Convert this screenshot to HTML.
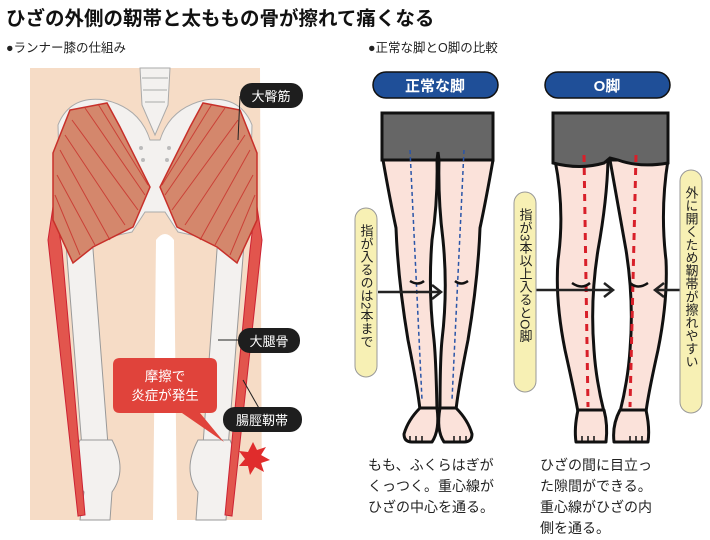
<!DOCTYPE html>
<html><head><meta charset="utf-8"><style>
body{margin:0;width:710px;height:540px;background:#fff;overflow:hidden;font-family:"Liberation Sans","Noto Sans CJK JP",sans-serif}
svg{position:absolute;left:0;top:0}
</style></head><body>
<svg width="710" height="540" viewBox="0 0 710 540" font-family="Liberation Sans, Noto Sans CJK JP, sans-serif">
<text x="6" y="25" font-size="19.5" font-weight="bold" fill="#111">ひざの外側の靭帯と太ももの骨が擦れて痛くなる</text>
<text x="6" y="52" font-size="12.5" fill="#222">●ランナー膝の仕組み</text>
<text x="368" y="52" font-size="12.5" fill="#222">●正常な脚とO脚の比較</text>

<!-- LEFT illustration -->
<path d="M30,68 L260,68 L262,520 L177,520 L174,240 Q165,228 156,240 L153,520 L30,520 Z" fill="#f6dcc6"/>
<!-- pelvis -->
<path d="M58,125 Q70,95 105,100 Q140,108 150,140 L160,140 Q170,108 205,100 Q240,95 252,125 L250,200 L205,238 L178,232 L165,212 L145,212 L132,232 L105,238 L60,200 Z" fill="#f3f1ef" stroke="#aaa" stroke-width="1"/>
<path d="M140,68 L170,68 L168,105 L155,135 L142,105 Z" fill="#f3f1ef" stroke="#aaa" stroke-width="1"/>
<g fill="none" stroke="#aaa" stroke-width="1"><path d="M142,78 L168,78 M143,90 L167,90 M145,102 L165,102"/></g>
<g fill="#bbb"><circle cx="141" cy="148" r="2"/><circle cx="169" cy="148" r="2"/><circle cx="143" cy="160" r="2"/><circle cx="167" cy="160" r="2"/></g>
<!-- femurs -->
<path d="M66,244 Q64,232 76,232 L92,236 L108,445 L82,448 Z" fill="#f3f1ef" stroke="#999" stroke-width="1"/>
<path d="M244,244 Q246,232 234,232 L218,236 L203,445 L228,448 Z" fill="#f3f1ef" stroke="#999" stroke-width="1"/>
<path d="M80,440 Q66,470 84,492 L80,520 L110,520 L112,492 Q128,470 112,440 Z" fill="#f3f1ef" stroke="#999" stroke-width="1"/>
<path d="M198,440 Q182,470 198,492 L196,520 L226,520 L228,492 Q244,470 230,440 Z" fill="#f3f1ef" stroke="#999" stroke-width="1"/>
<!-- IT bands -->
<path d="M54,200 L62,250 L85,515 L78,516 L48,240 Z" fill="#e2554d" stroke="#c23" stroke-width="1"/>
<path d="M256,200 L250,250 L225,515 L232,516 L262,240 Z" fill="#e2554d" stroke="#c23" stroke-width="1"/>
<!-- muscles -->
<g fill="#d4876c" stroke="#c8302a" stroke-width="1.5">
<path d="M53,153 L70,110 L107,103 L120,127 L150,187 L133,227 L93,247 L73,263 L53,220 Z"/>
<path d="M257,153 L240,110 L203,103 L190,127 L160,187 L177,227 L217,247 L237,263 L257,220 Z"/>
</g>
<g stroke="#c8302a" stroke-width="1" opacity=".8">
<path d="M60,150 L110,240 M65,135 L125,225 M72,120 L138,210 M85,108 L145,195 M98,104 L148,185 M57,175 L95,245 M55,195 L80,255"/>
<path d="M250,150 L200,240 M245,135 L185,225 M238,120 L172,210 M225,108 L165,195 M212,104 L162,185 M253,175 L215,245 M255,195 L230,255"/>
</g>
<!-- labels -->
<line x1="240" y1="96" x2="238" y2="140" stroke="#222"/>
<rect x="240" y="83" width="63" height="25" rx="12" fill="#1e1e1e"/>
<text x="271" y="101" font-size="13" fill="#fff" text-anchor="middle">大臀筋</text>
<line x1="218" y1="340" x2="238" y2="340" stroke="#222"/>
<rect x="238" y="328" width="62" height="25" rx="12" fill="#1e1e1e"/>
<text x="269" y="346" font-size="13" fill="#fff" text-anchor="middle">大腿骨</text>
<line x1="243" y1="380" x2="260" y2="410" stroke="#222"/>
<rect x="223" y="407" width="79" height="25" rx="12" fill="#1e1e1e"/>
<text x="262" y="425" font-size="13" fill="#fff" text-anchor="middle">腸脛靭帯</text>
<path d="M120,358 L210,358 Q217,358 217,365 L217,406 Q217,413 210,413 L200,413 L224,442 L182,413 L120,413 Q113,413 113,406 L113,365 Q113,358 120,358 Z" fill="#e0433b"/>
<text x="165" y="381" font-size="13.5" fill="#fff" text-anchor="middle">摩擦で</text>
<text x="165" y="400" font-size="13.5" fill="#fff" text-anchor="middle">炎症が発生</text>
<polygon points="253,442 257,450 266,447 261,455 270,460 261,463 264,472 255,467 250,475 248,466 239,466 245,459 239,451 248,452" fill="#e02c2c"/>

<!-- RIGHT: pills -->
<rect x="373" y="72" width="125" height="26" rx="13" fill="#1f4f98" stroke="#111" stroke-width="1.5"/>
<text x="435" y="91" font-size="15" fill="#fff" text-anchor="middle" font-weight="bold">正常な脚</text>
<rect x="545" y="72" width="125" height="26" rx="13" fill="#1f4f98" stroke="#111" stroke-width="1.5"/>
<text x="607" y="91" font-size="15" fill="#fff" text-anchor="middle" font-weight="bold">O脚</text>

<!-- normal legs -->
<g stroke="#111" stroke-width="3" fill="#fbe2da" stroke-linejoin="round">
<path d="M383,160 Q390,200 396,228 Q398,280 408,340 Q418,390 420,410 L437,410 Q436,360 434,340 Q428,290 432,240 Q438,200 437,160 Z"/>
<path d="M493,160 Q486,200 480,228 Q478,280 468,340 Q458,390 456,410 L440,410 Q440,360 442,340 Q448,290 443,240 Q438,200 439,160 Z"/>
<path d="M420,408 Q408,420 404,434 Q404,442 412,442 L432,442 Q440,430 437,408 Z"/>
<path d="M456,408 Q468,420 472,434 Q472,442 464,442 L444,442 Q436,430 440,408 Z"/>
</g>
<g stroke="#111" stroke-width="1.5"><path d="M410,436 L410,442 M416,436 L416,442 M422,436 L422,442 M466,436 L466,442 M460,436 L460,442 M454,436 L454,442"/></g>
<path d="M382,113 L493,113 L493,160 L439,160 L438,152 L437,160 L382,160 Z" fill="#666" stroke="#111" stroke-width="3"/>
<g stroke="#2a55a8" stroke-width="1.5" stroke-dasharray="4,3"><line x1="410" y1="150" x2="422" y2="400"/><line x1="464" y1="150" x2="452" y2="400"/></g>
<g fill="none" stroke="#111" stroke-width="2.5"><path d="M410,281 Q418,286 424,281 M455,281 Q461,286 468,281"/></g>
<line x1="378" y1="292" x2="440" y2="292" stroke="#222" stroke-width="2.5"/>
<path d="M432,285 L441,292 L432,299" fill="none" stroke="#222" stroke-width="2.5"/>
<rect x="355" y="208" width="22" height="169" rx="11" fill="#f7f0b4" stroke="#999"/>
<text x="366" y="224" font-size="13" fill="#222" style="writing-mode:vertical-rl">指が入るのは2本まで</text>

<!-- O legs -->
<g stroke="#111" stroke-width="3" fill="#fbe2da" stroke-linejoin="round">
<path d="M555,160 Q565,210 558,260 Q555,300 565,350 Q575,395 578,412 L604,412 Q596,380 594,350 Q590,300 598,250 Q607,200 608,160 Z"/>
<path d="M668,160 Q660,210 666,260 Q668,300 658,350 Q648,395 646,412 L620,412 Q628,380 630,350 Q634,300 626,250 Q617,200 610,160 Z"/>
<path d="M578,410 Q574,428 576,442 L606,442 Q608,425 604,410 Z"/>
<path d="M646,410 Q650,428 648,442 L614,442 Q612,425 620,410 Z"/>
</g>
<g stroke="#111" stroke-width="1.5"><path d="M582,436 L582,442 M588,436 L588,442 M594,436 L594,442 M642,436 L642,442 M636,436 L636,442 M630,436 L630,442"/></g>
<path d="M553,113 L668,113 L668,163 Q640,168 618,160 L610,158 L604,163 Q580,170 553,163 Z" fill="#666" stroke="#111" stroke-width="3"/>
<g stroke="#d8202a" stroke-width="3" stroke-dasharray="7,6"><line x1="584" y1="155" x2="588" y2="407"/><line x1="636" y1="155" x2="630" y2="407"/></g>
<g fill="none" stroke="#111" stroke-width="2.5"><path d="M572,283 Q582,290 590,283 M630,283 Q638,290 648,283"/></g>
<line x1="535" y1="290" x2="612" y2="290" stroke="#222" stroke-width="2.5"/>
<path d="M604,283 L613,290 L604,297" fill="none" stroke="#222" stroke-width="2.5"/>
<line x1="680" y1="290" x2="656" y2="290" stroke="#222" stroke-width="2.5"/>
<path d="M664,283 L655,290 L664,297" fill="none" stroke="#222" stroke-width="2.5"/>
<rect x="514" y="192" width="22" height="200" rx="11" fill="#f7f0b4" stroke="#999"/>
<text x="525" y="208" font-size="13" fill="#222" style="writing-mode:vertical-rl">指が3本以上入るとO脚</text>
<rect x="680" y="170" width="22" height="243" rx="11" fill="#f7f0b4" stroke="#999"/>
<text x="691" y="186" font-size="13" fill="#222" style="writing-mode:vertical-rl">外に開くため靭帯が擦れやすい</text>

<!-- captions -->
<g font-size="14" fill="#222">
<text x="368" y="470">もも、ふくらはぎが</text>
<text x="368" y="491">くっつく。重心線が</text>
<text x="368" y="512">ひざの中心を通る。</text>
<text x="540" y="470">ひざの間に目立っ</text>
<text x="540" y="491">た隙間ができる。</text>
<text x="540" y="512">重心線がひざの内</text>
<text x="540" y="533">側を通る。</text>
</g>
</svg>
</body></html>
